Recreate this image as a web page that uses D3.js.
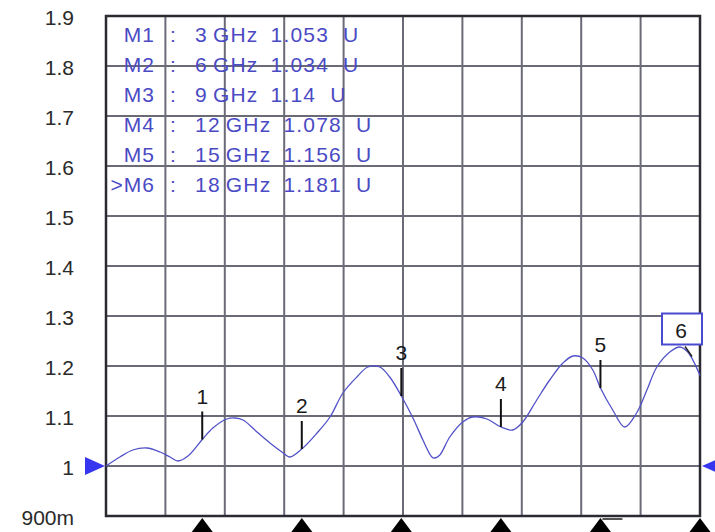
<!DOCTYPE html>
<html>
<head>
<meta charset="utf-8">
<script src="https://cdn.jsdelivr.net/npm/d3@7"></script>
<style>
  body { margin: 0; background: #fff; }
  svg { display: block; font-family: "Liberation Sans", Arial, sans-serif; }
</style>
</head>
<body>
<div id="chart"></div>
<script>

// trace (GHz, VSWR)
var traceFreq = [0.1, 0.52, 0.91, 1.33, 1.73, 2.03, 2.27, 2.57, 3.0, 3.32, 3.74, 3.99, 4.23, 4.65, 5.04, 5.40, 5.64,
    6.0, 6.46, 6.85, 7.24, 7.66, 7.99, 8.35, 8.65, 9.0, 9.35, 9.65, 9.92, 10.01, 10.16, 10.46, 10.85, 11.15, 11.58,
    12.0, 12.36, 12.66, 13.08, 13.47, 13.87, 14.17, 14.47, 14.77, 15.0, 15.37, 15.73, 16.09, 16.40, 16.70, 17.09,
    17.39, 17.63, 18.0];
var traceVswr = [1.000, 1.018, 1.032, 1.036, 1.028, 1.018, 1.010, 1.020, 1.053, 1.076, 1.094, 1.096, 1.092, 1.068,
    1.046, 1.028, 1.018, 1.034, 1.066, 1.098, 1.146, 1.178, 1.198, 1.198, 1.178, 1.140, 1.096, 1.052, 1.018, 1.016,
    1.022, 1.058, 1.088, 1.098, 1.094, 1.078, 1.072, 1.088, 1.132, 1.172, 1.206, 1.220, 1.216, 1.192, 1.156, 1.112,
    1.078, 1.106, 1.152, 1.198, 1.228, 1.238, 1.228, 1.181];

var markerNames = ["M1", "M2", "M3", "M4", "M5", ">M6"];
var markerFreqs = [3, 6, 9, 12, 15, 18];
var markerVals = ["1.053", "1.034", "1.14", "1.078", "1.156", "1.181"];

var yTicks = [0.9, 1.0, 1.1, 1.2, 1.3, 1.4, 1.5, 1.6, 1.7, 1.8, 1.9];
var startFreq = 0.1, stopFreq = 18, refLevel = 1;

var width = 715, height = 532,
    plot = { left: 106, right: 700, top: 16, bottom: 516 },
    gridColor = "#6b6b78",
    traceColor = "#5252c8",
    textBlue = "#4a4ac4";

var svg = d3.select("#chart").append("svg")
    .attr("width", width)
    .attr("height", height);

var x = d3.scaleLinear().domain([startFreq, stopFreq]).range([plot.left, plot.right]);
var y = d3.scaleLinear().domain([0.9, 1.9]).range([plot.bottom, plot.top]);

// grid: 10 divisions each way
var xGrid = d3.range(11).map(function(i) { return startFreq + i * (stopFreq - startFreq) / 10; });

svg.append("g").selectAll("line.vg")
  .data(xGrid.slice(1, 10))
  .enter().append("line")
    .attr("x1", function(d) { return x(d); })
    .attr("x2", function(d) { return x(d); })
    .attr("y1", plot.top)
    .attr("y2", plot.bottom)
    .attr("stroke", gridColor)
    .attr("stroke-width", 2);

svg.append("g").selectAll("line.hg")
  .data(yTicks.slice(1, 10))
  .enter().append("line")
    .attr("x1", plot.left)
    .attr("x2", plot.right)
    .attr("y1", function(d) { return y(d); })
    .attr("y2", function(d) { return y(d); })
    .attr("stroke", gridColor)
    .attr("stroke-width", 2);

svg.append("rect")
    .attr("x", plot.left)
    .attr("y", plot.top)
    .attr("width", plot.right - plot.left)
    .attr("height", plot.bottom - plot.top)
    .attr("fill", "none")
    .attr("stroke", "#2a2a30")
    .attr("stroke-width", 2.5);

// y labels
var yAxis = d3.axisLeft(y)
    .tickValues(yTicks)
    .tickSize(0)
    .tickPadding(0)
    .tickFormat(function(d) {
        if (Math.abs(d - 0.9) < 1e-9) return "900m";
        if (Math.abs(d - 1) < 1e-9) return "1";
        return d3.format(".1f")(d);
    });

var yg = svg.append("g")
    .attr("transform", "translate(74,2)")
    .call(yAxis);
yg.select(".domain").remove();
yg.selectAll("text")
    .attr("font-size", 21)
    .attr("font-family", "Liberation Sans, Arial, sans-serif")
    .attr("fill", "#2a2a2a");

// marker table
var rows = svg.append("g").selectAll("g.row")
  .data(markerNames)
  .enter().append("g")
    .attr("transform", function(d, i) { return "translate(0," + (42 + i * 30) + ")"; });

rows.each(function(name, i) {
    var g = d3.select(this);
    var fontSize = 21;
    g.append("text").text(name)
        .attr("x", 155).attr("text-anchor", "end")
        .attr("letter-spacing", 1)
        .attr("font-size", fontSize).attr("fill", textBlue);
    g.append("text").text(":")
        .attr("x", 170)
        .attr("font-size", fontSize).attr("fill", textBlue);
    // flow the rest of the row left to right
    var parts = [String(markerFreqs[i]), "GHz", markerVals[i], "U"],
        gaps = [5, 12, 14],
        cx = 195;
    parts.forEach(function(p, k) {
        var t = g.append("text").text(p)
            .attr("x", cx)
            .attr("letter-spacing", 1.2)
            .attr("font-size", fontSize).attr("fill", textBlue);
        if (k < gaps.length) cx += t.node().getComputedTextLength() + gaps[k];
    });
});

// trace
var line = d3.line()
    .x(function(d) { return x(d[0]); })
    .y(function(d) { return y(d[1]); })
    .curve(d3.curveCatmullRom.alpha(0.5));

svg.append("path")
    .datum(d3.zip(traceFreq, traceVswr))
    .attr("d", line)
    .attr("fill", "none")
    .attr("stroke", traceColor)
    .attr("stroke-width", 1.3);

// markers
markerFreqs.forEach(function(f, i) {
    var mx = x(f), my = y(+markerVals[i]);
    if (i < markerFreqs.length - 1) {
        svg.append("line")
            .attr("x1", mx).attr("x2", mx)
            .attr("y1", my - 28).attr("y2", my)
            .attr("stroke", "#111").attr("stroke-width", 2);
        svg.append("text").text(i + 1)
            .attr("x", mx).attr("y", my - 36)
            .attr("text-anchor", "middle")
            .attr("font-size", 21).attr("fill", "#1a1a1a");
    } else {
        // active marker gets a box
        var bx = mx - 38, by = my - 62;
        svg.append("rect")
            .attr("x", bx).attr("y", by)
            .attr("width", 40).attr("height", 31)
            .attr("fill", "#fff")
            .attr("stroke", "#4a4ad0").attr("stroke-width", 2);
        svg.append("text").text(i + 1)
            .attr("x", bx + 19).attr("y", by + 24)
            .attr("text-anchor", "middle")
            .attr("font-size", 21).attr("fill", "#1a1a1a");
        svg.append("line")
            .attr("x1", mx - 15).attr("y1", by + 33)
            .attr("x2", mx - 8).attr("y2", by + 43)
            .attr("stroke", "#222").attr("stroke-width", 1.5);
    }
    // triangles under the grid
    svg.append("path")
        .attr("d", "M" + mx + "," + (plot.bottom + 2) + "L" + (mx - 12) + "," + (plot.bottom + 18) + "L" + (mx + 12) + "," + (plot.bottom + 18) + "Z")
        .attr("fill", "#000");
});

// little bar near marker 5 at the bottom
svg.append("line")
    .attr("x1", x(15) + 2).attr("x2", x(15) + 22)
    .attr("y1", plot.bottom + 3).attr("y2", plot.bottom + 3)
    .attr("stroke", "#555").attr("stroke-width", 2);

// reference level arrows
var ry = y(refLevel);
svg.append("path")
    .attr("d", "M" + (plot.left - 1) + "," + ry + "L" + (plot.left - 21) + "," + (ry - 9) + "L" + (plot.left - 21) + "," + (ry + 9) + "Z")
    .attr("fill", "#3636f0");
svg.append("path")
    .attr("d", "M" + (plot.right + 2) + "," + ry + "L" + (plot.right + 22) + "," + (ry - 9) + "L" + (plot.right + 22) + "," + (ry + 9) + "Z")
    .attr("fill", "#3636f0");

</script>
</body>
</html>
